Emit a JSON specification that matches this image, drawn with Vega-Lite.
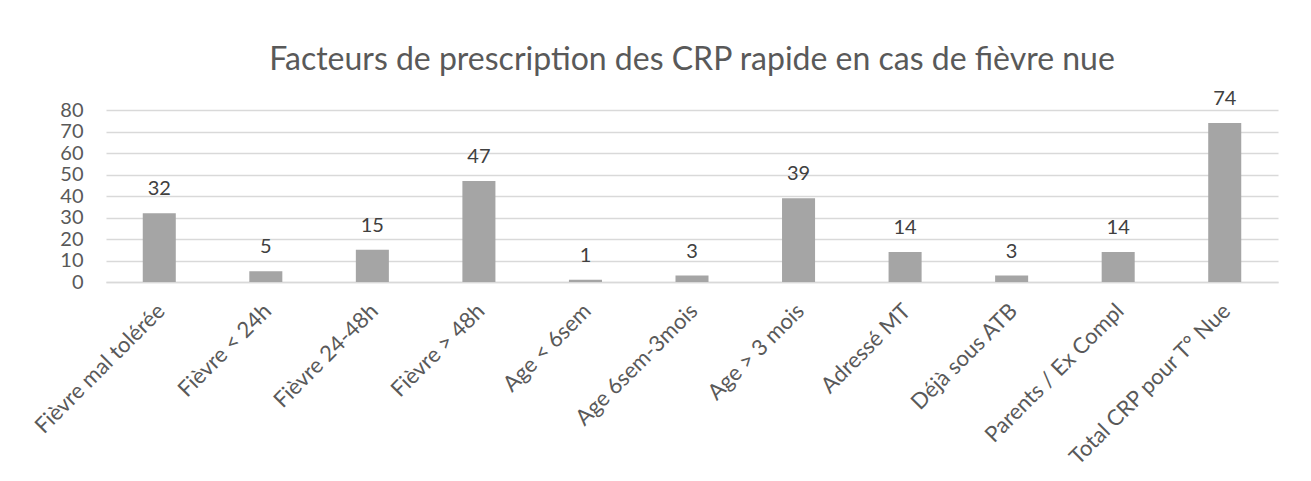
{
  "$schema": "https://vega.github.io/schema/vega-lite/v6.json",
  "autosize": "none",
  "width": 1172,
  "height": 172,
  "padding": {"left": 106, "top": 110, "right": 33, "bottom": 199},
  "background": "white",
  "title": {
    "text": "Facteurs de prescription des CRP rapide en cas de fièvre nue",
    "font": "Lato",
    "fontSize": 32,
    "fontWeight": "normal",
    "color": "#595959",
    "anchor": "middle",
    "baseline": "alphabetic",
    "offset": -13
  },
  "data": {
    "values": [
      {"cat": "Fièvre mal tolérée", "n": 32},
      {"cat": "Fièvre < 24h", "n": 5},
      {"cat": "Fièvre 24-48h", "n": 15},
      {"cat": "Fièvre > 48h", "n": 47},
      {"cat": "Age < 6sem", "n": 1},
      {"cat": "Age 6sem-3mois", "n": 3},
      {"cat": "Age > 3 mois", "n": 39},
      {"cat": "Adressé MT", "n": 14},
      {"cat": "Déjà sous ATB", "n": 3},
      {"cat": "Parents / Ex Compl", "n": 14},
      {"cat": "Total CRP pour T° Nue", "n": 74}
    ]
  },
  "encoding": {
    "x": {
      "field": "cat",
      "type": "nominal",
      "sort": null,
      "title": null,
      "scale": {"paddingInner": 0.69, "paddingOuter": 0.345},
      "axis": {
        "labelAngle": -45,
        "labelAlign": "right",
        "labelBaseline": "middle",
        "labelFont": "Lato",
        "labelFontSize": 22,
        "labelColor": "#595959",
        "labelPadding": 25,
        "labelOffset": 2,
        "ticks": false,
        "domainColor": "#d9d9d9",
        "domainWidth": 1.5,
        "labelLimit": 300
      }
    },
    "y": {
      "field": "n",
      "type": "quantitative",
      "title": null,
      "scale": {"domain": [0, 80]},
      "axis": {
        "values": [0, 10, 20, 30, 40, 50, 60, 70, 80],
        "labelFont": "Lato",
        "labelFontSize": 20,
        "labelColor": "#595959",
        "labelPadding": 23,
        "labelOverlap": false,
        "ticks": false,
        "domain": false,
        "gridColor": "#d9d9d9",
        "gridWidth": 1.5
      }
    }
  },
  "layer": [
    {"mark": {"type": "bar", "color": "#a5a5a5"}},
    {
      "mark": {
        "type": "text",
        "font": "Lato",
        "fontSize": 20,
        "color": "#404040",
        "baseline": "alphabetic",
        "dy": -18
      },
      "encoding": {"text": {"field": "n", "type": "quantitative"}}
    }
  ],
  "config": {"view": {"stroke": null}}
}
